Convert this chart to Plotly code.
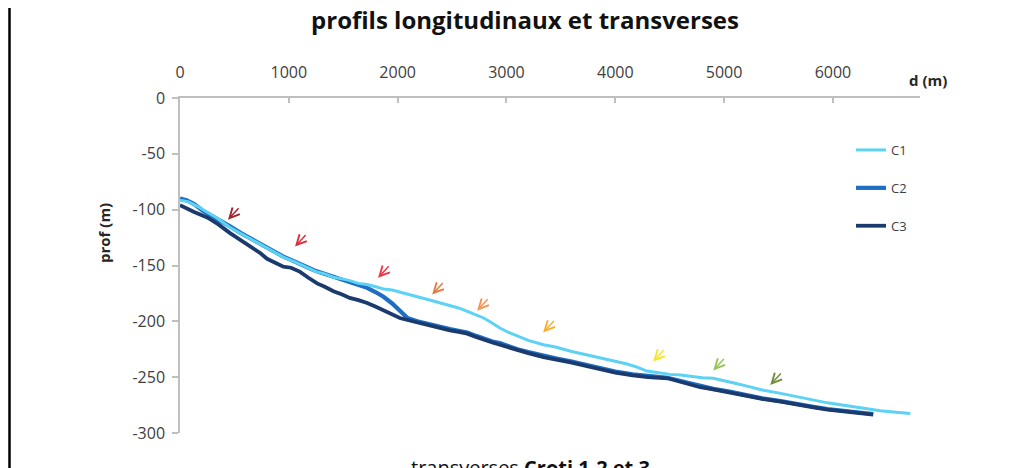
import plotly.graph_objects as go

# ---- data ----
c1_d = [0, 80, 160, 250, 340, 460, 560, 670, 760, 860, 950, 1050, 1150, 1250, 1330, 1410, 1490, 1560, 1640, 1720,
        1800, 1870, 1950, 2020, 2100, 2180, 2260, 2330, 2410, 2480, 2560, 2640, 2720, 2790, 2860, 2940, 3020, 3100,
        3200, 3340, 3450, 3600, 3730, 3860, 4000, 4100, 4200, 4290, 4400, 4500, 4600, 4700, 4800, 4900, 5000, 5100,
        5210, 5350, 5520, 5650, 5820, 5950, 6130, 6280, 6435, 6580, 6711]
c1_p = [-91.5, -93, -97, -102, -107.5, -116, -121.5, -127.5, -132.5, -138, -142.5, -146.5, -151, -155.5, -157.5, -160.5, -162, -163.5, -166, -167,
        -169, -171, -172, -174, -176, -178, -180, -182, -184, -186, -188, -191, -194, -197, -201, -206, -210, -213,
        -217, -221, -223, -227, -230, -233, -236, -238, -241, -244.5, -246, -247.5, -248, -249.5, -250.5, -251, -253.5, -255.5,
        -258, -261.5, -264.5, -267, -270, -273, -275.5, -278, -280, -281.5, -282.6]

c2_d = [0, 60, 130, 210, 300, 380, 460, 560, 670, 740, 800, 880, 950, 1020, 1100, 1180, 1250, 1330, 1410, 1490,
        1560, 1640, 1720, 1800, 1870, 1950, 2020, 2090, 2180, 2260, 2330, 2410, 2480, 2560, 2640, 2720, 2800, 2870,
        2940, 3020, 3100, 3200, 3340, 3450, 3600, 3730, 3860, 4000, 4160, 4300, 4480, 4600, 4700, 4780, 4900, 5050,
        5210, 5350, 5520, 5650, 5820, 5950, 6130, 6250, 6370]
c2_p = [-90, -91.5, -95, -101, -106, -110, -115, -121, -127, -131, -134, -139, -142, -145, -148, -152, -155, -157.5, -160, -163,
        -165, -168, -170, -174, -178, -184, -191, -197, -200, -202, -203.5, -205.5, -207, -208.5, -210, -213, -216, -218,
        -219.5, -222.5, -225, -227.5, -231, -233, -236, -239, -242, -245, -247.5, -249, -250.5, -253.5, -256, -258, -260.5, -263,
        -266.5, -269, -271.5, -274, -276.5, -278.5, -280.5, -281.5, -283]

c3_d = [0, 60, 130, 250, 350, 460, 550, 670, 740, 800, 880, 950, 1020, 1100, 1180, 1260, 1330, 1410, 1490, 1560,
        1640, 1720, 1800, 1870, 1950, 2020, 2100, 2180, 2260, 2330, 2410, 2480, 2560, 2640, 2720, 2800, 2870, 2940,
        3020, 3100, 3200, 3340, 3450, 3600, 3730, 3860, 4000, 4160, 4300, 4480, 4600, 4700, 4780, 4900, 5050, 5210,
        5350, 5520, 5650, 5820, 5950, 6130, 6250, 6370]
c3_p = [-96, -99, -102, -107, -113, -121, -127, -134, -139, -144, -148, -151, -152, -155.5, -161, -166, -169, -173, -176, -179,
        -181, -183.5, -187, -190, -194, -197, -199, -201, -203, -205, -206.5, -208, -209.5, -211, -214, -217, -219, -221,
        -223.5, -226, -228.5, -232, -234, -237, -240, -243, -246, -248.5, -250, -251, -254, -257, -259, -261, -264, -267,
        -269.5, -272, -274.5, -277, -279, -281, -282, -283.5]

series_names = ["C1", "C2", "C3"]
series_colors = ["#5CD2F4", "#1E6FC4", "#1B3A6E"]
series_widths = [3, 4.2, 3.8]

# arrow tips (d, prof) and colours
arrow_d = [441, 1057, 1820, 2317, 2730, 3337, 4348, 4900, 5424]
arrow_p = [-109, -133, -161, -176, -190.5, -210, -236, -244, -257]
arrow_colors = ["#A3232E", "#D9303F", "#F0354A", "#E57A45", "#F39455", "#F8B030", "#F5E62A", "#95C458", "#6E8E3C"]

x_ticks = [0, 1000, 2000, 3000, 4000, 5000, 6000]
y_ticks = [0, -50, -100, -150, -200, -250, -300]
y_tick_labels = ["0", "-50", "-100", "-150", "-200", "-250", "-300"]

FONT = "Open Sans"

# page body margin offsets the figure by 8px; work in reference pixels
OFF = 8
W, H = 1011, 468
PL, PR, PT, PB = 180 - OFF, 920 - OFF, 98 - OFF, 433 - OFF

def px_x(px):
    return (px - OFF - PL) / (PR - PL)

def px_y(py):
    return (PB - (py - OFF)) / (PB - PT)

fig = go.Figure()
series = {"C1": (c1_d, c1_p), "C2": (c2_d, c2_p), "C3": (c3_d, c3_p)}
draw_order = ["C2", "C1", "C3"]
for name in draw_order:
    i = series_names.index(name)
    dd, pp = series[name]
    fig.add_trace(go.Scatter(
        x=dd, y=pp, mode="lines", name=name,
        line=dict(color=series_colors[i], width=series_widths[i]),
        legendgroup=name, legendrank=i + 1,
    ))

for d, p, col in zip(arrow_d, arrow_p, arrow_colors):
    fig.add_annotation(x=d, y=p, xref="x", yref="y", ax=12, ay=-13, axref="pixel", ayref="pixel",
                       text="", showarrow=True, arrowhead=5, arrowsize=1.3, arrowwidth=1.5,
                       arrowcolor=col)

fig.add_annotation(text="<b>d (m)</b>", xref="paper", yref="paper", x=px_x(907), y=px_y(80),
                   xanchor="left", yanchor="middle", showarrow=False,
                   font=dict(family=FONT, size=15, color="#262626"))

fig.add_annotation(text="<b>prof (m)</b>", xref="paper", yref="paper", x=px_x(104), y=px_y(233),
                   xanchor="center", yanchor="middle", textangle=-90, showarrow=False,
                   font=dict(family=FONT, size=15, color="#262626"))

fig.add_annotation(text="transverses <b>Croti 1-2 et 3</b>", xref="paper", yref="paper",
                   x=px_x(530), y=px_y(452), xanchor="center", yanchor="top",
                   showarrow=False, font=dict(family=FONT, size=20, color="#111111"))

fig.add_shape(type="line", xref="paper", yref="paper",
              x0=px_x(9.5), x1=px_x(9.5), y0=-1, y1=2,
              line=dict(color="#000000", width=2.5))

fig.update_layout(
    width=W, height=H,
    margin=dict(l=PL, r=W - PR, t=PT, b=H - PB, pad=0),
    paper_bgcolor="white", plot_bgcolor="white",
    title=dict(text="<b>profils longitudinaux et transverses</b>", x=(525 - OFF) / W, xanchor="center",
               y=1 - (21 - OFF) / H, yanchor="middle", pad=dict(t=0, b=0),
               font=dict(family=FONT, size=24, color="#111111")),
    font=dict(family=FONT, color="#404040"),
    showlegend=True,
    legend=dict(x=px_x(851), y=px_y(135), xanchor="left", yanchor="top",
                font=dict(family=FONT, size=13, color="#404040"), tracegroupgap=18,
                bgcolor="rgba(0,0,0,0)", itemwidth=30, traceorder="grouped"),
    xaxis=dict(range=[0, 6800], side="top", tickvals=x_ticks, ticks="inside", ticklen=5,
               tickcolor="#BFBFBF", tickwidth=1.5, showline=True, linecolor="#BFBFBF", linewidth=1.5,
               showgrid=False, zeroline=False, tickfont=dict(size=16, color="#404040"),
               ticklabelstandoff=12, automargin=False),
    yaxis=dict(range=[-300, 0], tickvals=y_ticks, ticktext=y_tick_labels, ticks="outside", ticklen=6,
               tickcolor="#BFBFBF", tickwidth=1.5, showline=True, linecolor="#BFBFBF", linewidth=1.5,
               showgrid=False, zeroline=False, tickfont=dict(size=16, color="#404040"),
               ticklabelstandoff=4, automargin=False),
)

fig.write_html("out.html")
